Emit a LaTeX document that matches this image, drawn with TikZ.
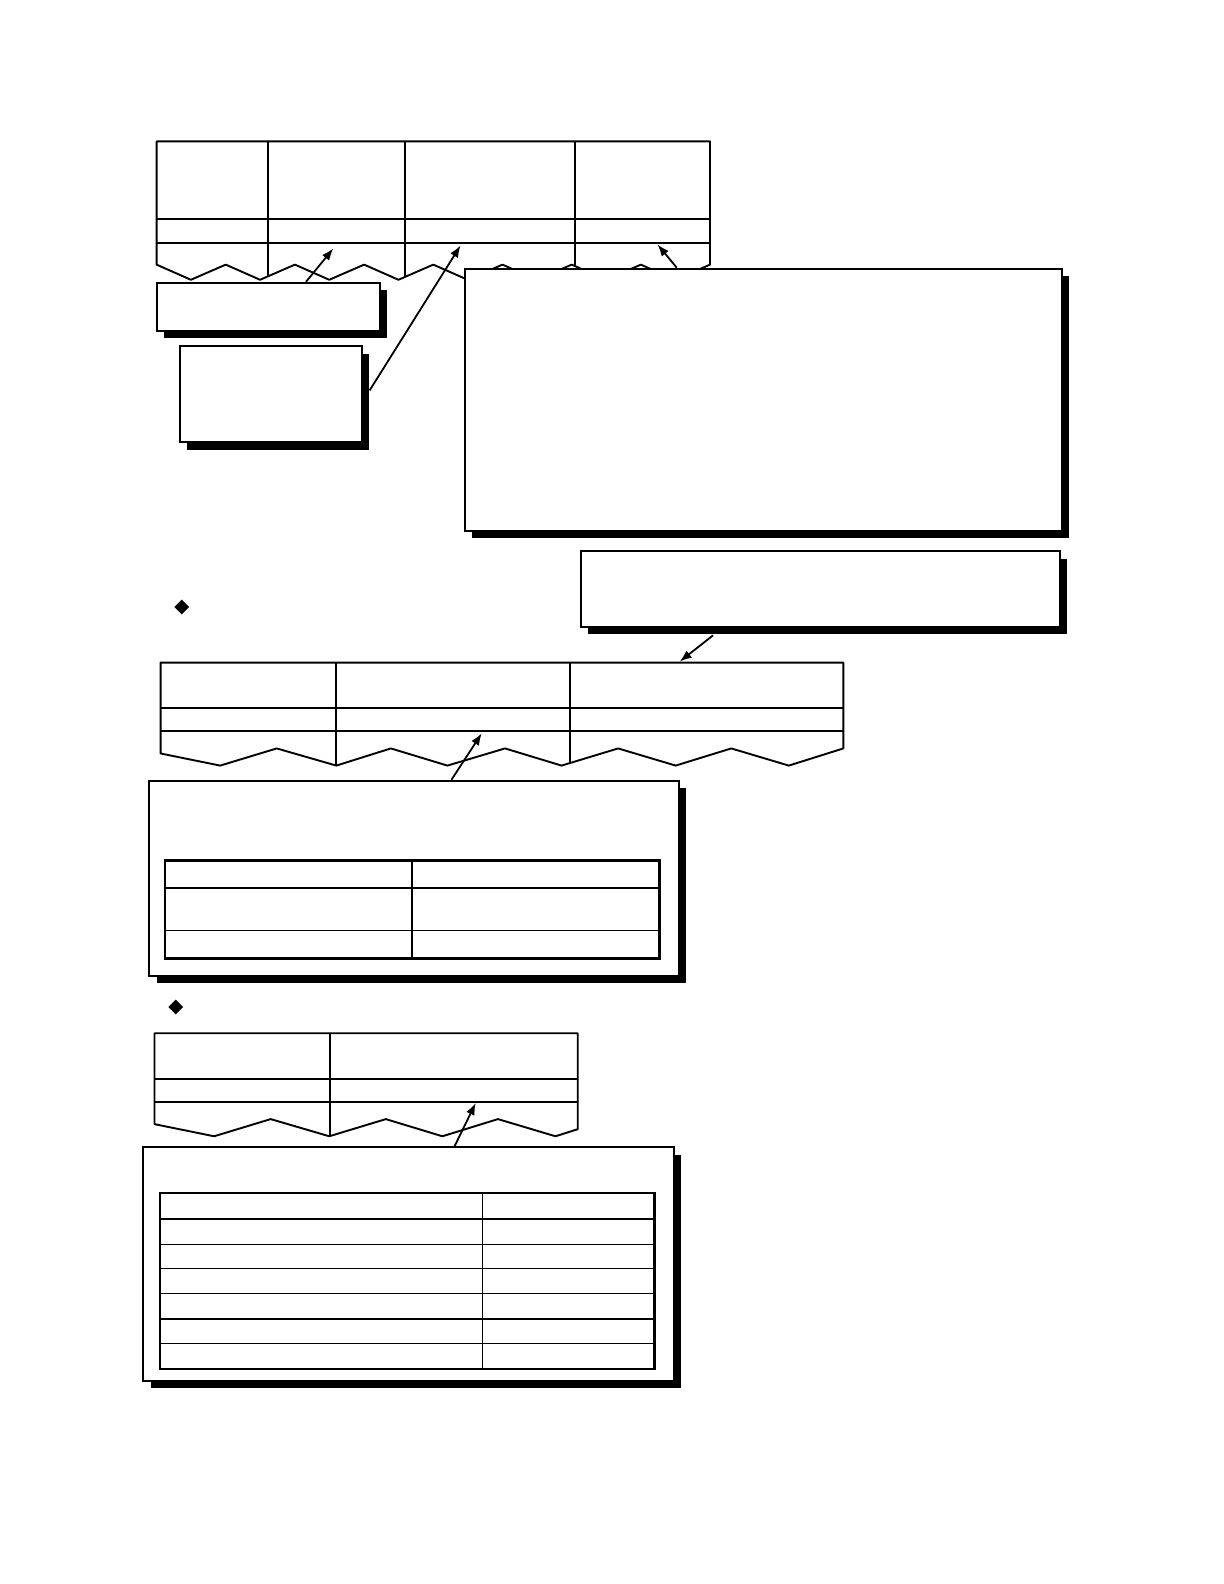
\documentclass[tikz,border=0pt]{standalone}
\usetikzlibrary{calc,shapes.geometric,shadows,arrows.meta}

\tikzset{
  callout/.style={draw, line width=1pt, fill=white, anchor=north west, inner sep=0pt,
    drop shadow={shadow xshift=3.6pt, shadow yshift=-3.6pt, opacity=1, fill=black}},
  rule/.style={line width=0.95pt},
  thinrule/.style={line width=0.65pt},
  pointer/.style={line width=0.9pt, -{Latex[length=6pt,width=4.5pt]}},
  bullet/.style={diamond, fill=black, inner sep=0pt, minimum size=7.5pt}
}

\begin{document}
\begin{tikzpicture}[x=0.505pt, y=-0.505pt]

% first record, torn at the bottom
\begin{scope}
\clip (155,140) -- (703,140) -- (703,262) -- (668.5,277) -- (634.5,262) -- (600,277)
  -- (566,262) -- (531.5,277) -- (497.5,262) -- (463,277) -- (429,262) -- (394.5,277)
  -- (360.5,262) -- (326,277) -- (292,262) -- (257.5,277) -- (223.5,262) -- (189,277)
  -- (155,262) -- cycle;
\foreach \x in {265,401,569}
  \draw[rule] (\x,140) -- (\x,300);
\foreach \y in {217,241}
  \draw[rule] (155,\y) -- (703,\y);
\end{scope}
\draw[rule, line join=round] (155,140) -- (703,140) -- (703,262) -- (668.5,277) -- (634.5,262) -- (600,277)
  -- (566,262) -- (531.5,277) -- (497.5,262) -- (463,277) -- (429,262) -- (394.5,277)
  -- (360.5,262) -- (326,277) -- (292,262) -- (257.5,277) -- (223.5,262) -- (189,277)
  -- (155,262) -- cycle;

% second record
\begin{scope}
\clip (159,656) -- (835,656) -- (835,741) -- (781,758) -- (724,741) -- (669,758) -- (612,741)
  -- (556,758) -- (500,741) -- (443,758) -- (387,741) -- (333,758) -- (274,741) -- (218,758)
  -- (159,746) -- cycle;
\foreach \x in {333,564}
  \draw[rule] (\x,656) -- (\x,780);
\foreach \y in {701,724}
  \draw[rule] (159,\y) -- (835,\y);
\end{scope}
\draw[rule, line join=round] (159,656) -- (835,656) -- (835,741) -- (781,758) -- (724,741) -- (669,758) -- (612,741)
  -- (556,758) -- (500,741) -- (443,758) -- (387,741) -- (333,758) -- (274,741) -- (218,758)
  -- (159,746) -- cycle;

% third record
\begin{scope}
\clip (153,1023) -- (572,1023) -- (572,1118) -- (550,1125) -- (493,1108) -- (438,1125)
  -- (382,1108) -- (326,1125) -- (268,1108) -- (212,1125) -- (153,1113) -- cycle;
\draw[rule] (327,1023) -- (327,1140);
\foreach \y in {1068,1091}
  \draw[rule] (153,\y) -- (572,\y);
\end{scope}
\draw[rule, line join=round] (153,1023) -- (572,1023) -- (572,1118) -- (550,1125) -- (493,1108) -- (438,1125)
  -- (382,1108) -- (326,1125) -- (268,1108) -- (212,1125) -- (153,1113) -- cycle;

% bullets
\node[bullet] (bulletA) at (180,601) {};
\node[bullet] (bulletB) at (174,997) {};

% callout boxes
\node[callout, minimum width=111.6pt, minimum height=24.2pt] (boxA) at (154,279) {};
\node[callout, minimum width=90.9pt, minimum height=48pt] (boxB) at (177,342) {};
\node[callout, minimum width=298.5pt, minimum height=131.3pt] (boxC) at (459,265) {};
\node[callout, minimum width=239.4pt, minimum height=37.9pt] (boxD) at (574,545) {};
\node[callout, minimum width=264.6pt, minimum height=97.5pt] (boxE) at (147,772) {};
\node[callout, minimum width=265.1pt, minimum height=116.7pt] (boxF) at (141,1135) {};

% table inside box E
\draw[line width=1.05pt] (163,852) rectangle (653,949);
\draw[line width=1.05pt] (163,879) -- (653,879);
\draw[thinrule] (163,921) -- (653,921);
\draw[thinrule] (408,852) -- (408,949);

% table inside box F
\draw[line width=1.05pt] (158,1181) rectangle (648,1355);
\draw[line width=1.05pt] (158,1207) -- (648,1207);
\foreach \y in {1232,1256,1281,1306,1330}
  \draw[thinrule] (158,\y) -- (648,\y);
\draw[thinrule] (478,1181) -- (478,1355);

% targets of the pointers
\coordinate (fieldA) at (330,246);
\coordinate (fieldB) at (456,243);
\coordinate (fieldC) at (651,242);
\coordinate (fieldD) at (673,655);
\coordinate (fieldE) at (477,726);
\coordinate (fieldF) at (471,1092);

\draw[pointer] ($(boxA.north west)+(149,0)$) -- (fieldA);
\draw[pointer] ($(boxB.east)+(7,-4)$) -- (fieldB);
\draw[pointer] ($(boxC.north west)+(211,0)$) -- (fieldC);
\draw[pointer] ($(boxD.south west)+(132,7)$) -- (fieldD);
\draw[pointer] ($(boxE.north west)+(300,0)$) -- (fieldE);
\draw[pointer] ($(boxF.north west)+(309,0)$) -- (fieldF);

\pgfresetboundingbox
\useasboundingbox (0pt,0pt) rectangle (612pt,-792pt);
\end{tikzpicture}
\end{document}
